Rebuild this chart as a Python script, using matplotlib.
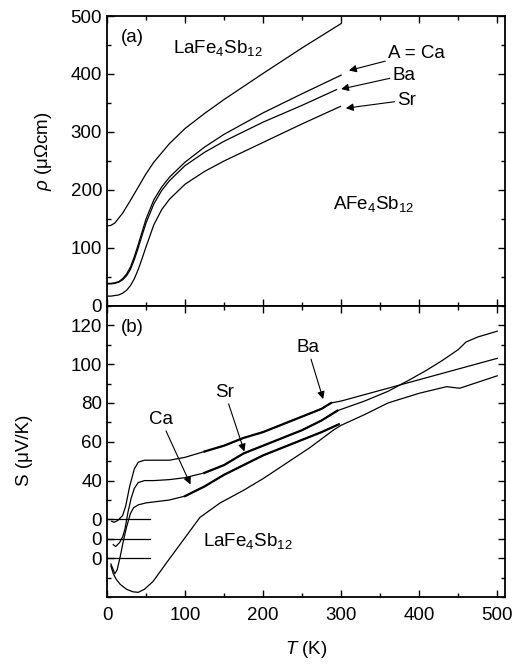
import matplotlib
matplotlib.use("Agg")
import matplotlib.pyplot as plt
from matplotlib.ticker import MultipleLocator

plt.rcParams['font.family'] = ['Liberation Sans', 'DejaVu Sans']
plt.rcParams['mathtext.fontset'] = 'custom'
plt.rcParams['mathtext.rm'] = 'Liberation Sans'
plt.rcParams['mathtext.it'] = 'Liberation Sans:italic'
plt.rcParams['mathtext.default'] = 'regular'

# (a) resistivity, uOhm cm
T_la_rho = [0, 5, 10, 20, 30, 40, 50, 60, 80, 100, 125, 150, 200, 250, 300]
rho_la = [138, 139, 143, 160, 182, 205, 228, 248, 280, 306, 332, 356, 401, 445, 487]

T_ca_rho = [0, 5, 10, 15, 20, 25, 30, 35, 40, 45, 50, 60, 70, 80, 100, 125, 150, 200, 250, 300]
rho_ca = [39, 39, 40, 42, 47, 55, 67, 85, 106, 128, 150, 183, 205, 222, 248, 274, 296, 333, 366, 398]

T_ba_rho = [0, 5, 10, 15, 20, 25, 30, 35, 40, 45, 50, 60, 70, 80, 100, 125, 150, 200, 250, 294]
rho_ba = [38, 38, 39, 41, 45, 52, 63, 80, 100, 122, 143, 176, 199, 216, 242, 265, 284, 317, 346, 373]

T_sr_rho = [0, 5, 10, 15, 20, 25, 30, 35, 40, 45, 50, 60, 70, 80, 100, 125, 150, 200, 250, 299]
rho_sr = [17, 17, 18, 19, 22, 27, 35, 47, 63, 82, 102, 140, 166, 184, 210, 232, 250, 282, 314, 344]

# (b) thermopower, uV/K (A-filled curves shifted onto their own zero lines)
T_ba_s = [6, 9, 14, 20, 24, 29, 35, 40, 48, 60, 80, 100, 125, 150, 175, 200, 225, 250, 275, 287,
          300, 350, 400, 450, 500]
s_ba = [19, 18.5, 19.5, 22, 27, 37, 46, 49.5, 50.5, 50.5, 50.5, 52, 55, 58, 62, 65, 69, 73, 77, 80,
        81, 86.5, 92, 97.5, 103]
noisy_ba = (125, 287)

T_sr_s = [8, 11, 16, 20, 23, 27, 31, 35, 40, 48, 60, 80, 100, 125, 150, 175, 200, 225, 250, 275, 295,
          330, 360, 388, 410, 430, 450, 460, 475, 500]
s_sr = [7, 6, 8, 11, 15, 24, 31, 36, 39, 40, 40, 40.5, 41.5, 44, 48, 54, 58, 62, 66, 71, 76,
        81, 86, 92, 97, 102, 107.5, 111.4, 114, 117]
noisy_sr = (125, 295)

T_ca_s = [5, 7, 10, 13, 17, 21, 25, 30, 34, 40, 50, 60, 80, 100, 125, 150, 175, 200, 225, 250, 275, 297]
s_ca = [-3, -5, -8, -6, 1, 9, 16, 23, 26, 27.5, 28.5, 29, 30, 32, 37, 43, 48, 53, 57, 61, 65, 69]
noisy_ca = (100, 297)

T_la_s = [5, 8, 12, 17, 25, 33, 40, 48, 59, 76, 98, 119, 145, 175, 200, 230, 260, 290,
          300, 330, 360, 400, 435, 452, 470, 500]
s_la = [-4, -8, -11, -13.5, -16, -17.3, -17.6, -16, -12, -2.5, 9.5, 21, 28.5, 35, 41, 49, 57, 66,
        68.5, 74, 80, 85, 88.4, 87.6, 90, 94]

zero_levels = [20, 10, 0]
zero_line_T = [0, 55]

fig = plt.figure(figsize=(5.15, 6.64), dpi=100)
ax1 = fig.add_axes([0.2078, 0.5392, 0.7728, 0.4367])
ax2 = fig.add_axes([0.2078, 0.1009, 0.7728, 0.4383])

lw = 0.9
for T, r in [(T_la_rho, rho_la), (T_ca_rho, rho_ca), (T_ba_rho, rho_ba), (T_sr_rho, rho_sr)]:
    ax1.plot(T, r, color='black', lw=lw)

ax2.plot(T_la_s, s_la, color='black', lw=lw)
for T, s, (t0, t1) in [(T_ba_s, s_ba, noisy_ba), (T_sr_s, s_sr, noisy_sr), (T_ca_s, s_ca, noisy_ca)]:
    ax2.plot(T, s, color='black', lw=lw)
    # the noisy part of the data reads as a thicker band
    seg = [(t, v) for t, v in zip(T, s) if t0 <= t <= t1]
    ax2.plot([p[0] for p in seg], [p[1] for p in seg], color='black', lw=1.6)
for z in zero_levels:
    ax2.plot(zero_line_T, [z, z], color='black', lw=lw)

fs = 13.5
for ax in (ax1, ax2):
    ax.set_xlim(0, 510)
    ax.xaxis.set_major_locator(MultipleLocator(100))
    ax.xaxis.set_minor_locator(MultipleLocator(50))
    ax.tick_params(which='both', direction='in', top=True, right=True, width=1.0, labelsize=fs)
    ax.tick_params(which='major', length=5)
    ax.tick_params(which='minor', length=3)
    ax.tick_params(axis='x', pad=7)
    for sp in ax.spines.values():
        sp.set_linewidth(1.3)

ax1.set_ylim(0, 500)
ax1.yaxis.set_major_locator(MultipleLocator(100))
ax1.yaxis.set_minor_locator(MultipleLocator(50))
ax1.tick_params(axis='x', labelbottom=False)
ax1.set_ylabel(r'$\mathit{\rho}$ (μΩcm)', fontsize=fs)
ax1.yaxis.set_label_coords(-0.133, 0.532)

ax2.set_ylim(-20, 130)
ax2.set_yticks([0, 10, 20, 40, 60, 80, 100, 120])
ax2.set_yticklabels(['0', '0', '0', '40', '60', '80', '100', '120'])
ax2.yaxis.set_minor_locator(MultipleLocator(10))
ax2.set_xlabel(r'$\mathit{T}$ (K)', fontsize=fs, labelpad=11)
ax2.set_ylabel('S (μV/K)', fontsize=fs)
ax2.yaxis.set_label_coords(-0.185, 0.505)

arrow = dict(arrowstyle='-|>', color='black', lw=0.8, mutation_scale=11, shrinkA=0, shrinkB=0)

ax1.text(0.035, 0.955, '(a)', transform=ax1.transAxes, fontsize=fs, va='top')
ax1.text(85, 445, r'LaFe$_4$Sb$_{12}$', fontsize=fs, va='center')
ax1.text(290, 175, r'AFe$_4$Sb$_{12}$', fontsize=fs, va='center')
ax1.annotate('A = Ca', xy=(310, 406), xytext=(360, 436), fontsize=fs, va='center', arrowprops=arrow)
ax1.annotate('Ba', xy=(300, 374), xytext=(366, 398), fontsize=fs, va='center', arrowprops=arrow)
ax1.annotate('Sr', xy=(306, 341), xytext=(372, 355), fontsize=fs, va='center', arrowprops=arrow)

ax2.text(0.035, 0.955, '(b)', transform=ax2.transAxes, fontsize=fs, va='top')
ax2.text(123, 9, r'LaFe$_4$Sb$_{12}$', fontsize=fs, va='center')
ax2.annotate('Ca', xy=(107, 38), xytext=(69, 67), fontsize=fs, ha='center', va='bottom', arrowprops=arrow)
ax2.annotate('Sr', xy=(176, 55), xytext=(151, 81), fontsize=fs, ha='center', va='bottom', arrowprops=arrow)
ax2.annotate('Ba', xy=(277, 82), xytext=(257, 104), fontsize=fs, ha='center', va='bottom', arrowprops=arrow)

fig.savefig('out.png', dpi=100)
